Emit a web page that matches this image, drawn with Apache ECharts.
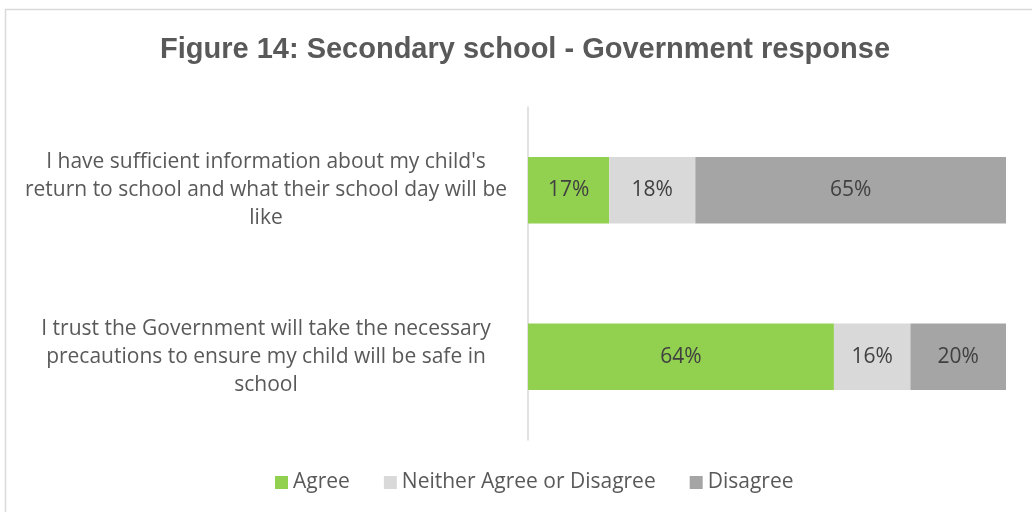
<!DOCTYPE html>
<html>
<head>
<meta charset="utf-8">
<script src="https://cdn.jsdelivr.net/npm/echarts@6/dist/echarts.min.js"></script>
<style>
html,body{margin:0;padding:0;background:#fff;}
#chart{width:1032px;height:512px;}
</style>
</head>
<body>
<div id="chart"></div>
<script>
const titleText = 'Figure 14: Secondary school - Government response';
const categories = [
  "I have sufficient information about my child's\nreturn to school and what their school day will be\nlike",
  "I trust the Government will take the necessary\nprecautions to ensure my child will be safe in\nschool"
];
const seriesNames = ['Agree', 'Neither Agree or Disagree', 'Disagree'];
const agree = [17, 64];
const neither = [18, 16];
const disagree = [65, 20];
const colors = ['#92d050', '#d9d9d9', '#a5a5a5'];

const chart = echarts.init(document.getElementById('chart'));
const dataSets = [agree, neither, disagree];
const font = '"Open Sans", Lato, sans-serif';
chart.setOption({
  animation: false,
  backgroundColor: '#ffffff',
  graphic: [{
    type: 'rect',
    shape: {x: 5.5, y: 9.5, width: 1100, height: 600},
    style: {fill: 'none', stroke: '#d9d9d9', lineWidth: 1.5},
    silent: true, z: -1
  }],
  title: {
    text: titleText,
    left: 520, top: 30, textAlign: 'center',
    textStyle: {fontFamily: '"Liberation Sans", Arial, sans-serif', fontWeight: 'bold', fontSize: 29, color: '#595959'}
  },
  legend: {
    bottom: 14, left: 270,
    itemWidth: 13, itemHeight: 13, itemGap: 34,
    icon: 'rect',
    textStyle: {fontFamily: font, fontSize: 21, color: '#595959'},
    data: seriesNames
  },
  grid: {left: 528, right: 26, top: 107, bottom: 72, containLabel: false},
  xAxis: {
    type: 'value', min: 0, max: 100, show: false
  },
  yAxis: {
    type: 'category', data: categories, inverse: true,
    axisLine: {lineStyle: {color: '#d9d9d9', width: 1.5}},
    axisTick: {length: 7, lineStyle: {color: '#d9d9d9', width: 1.5}},
    axisLabel: {
      align: 'center', margin: 262,
      fontFamily: font, fontSize: 21, lineHeight: 28, color: '#595959'
    }
  },
  series: seriesNames.map((n, i) => ({
    name: n, type: 'bar', stack: 'total',
    barCategoryGap: '60%',
    data: dataSets[i],
    itemStyle: {color: colors[i]},
    label: {show: true, position: 'inside', formatter: '{c}%', fontFamily: font, fontSize: 21, color: '#404040'}
  }))
});
</script>
</body>
</html>
